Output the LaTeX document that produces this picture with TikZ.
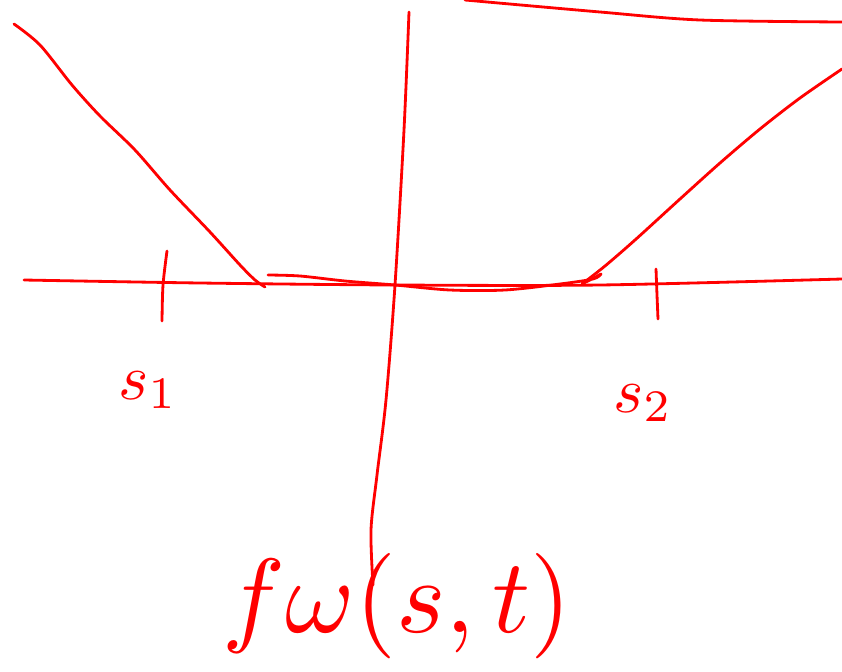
\documentclass[tikz,border=0pt]{standalone}
\usepackage{amsmath,amssymb}
\usepackage{graphicx}
\usepackage{tikz}
\definecolor{InkRed}{RGB}{255,0,0}
\tikzset{ink/.style={InkRed,line width=2.4pt,line cap=round,line join=round}}

\begin{document}
\begin{tikzpicture}[x=0.03cm,y=-0.03cm]
\useasboundingbox (0,0) rectangle (842,671);

% axis and the vertical line
\draw[ink] plot[smooth] coordinates {(24,280) (200,283) (395,285) (600,285) (842,279)};
\draw[ink] plot[smooth] coordinates {(409,12) (404,130) (395,285) (386,400) (377,475) (371,530) (373,585)};

% ticks
\draw[ink] plot[smooth] coordinates {(167,251) (163,285) (162,321)};
\draw[ink] plot[smooth] coordinates {(656,269) (657,295) (658,319)};

% the curve
\draw[ink] plot[smooth] coordinates {(465,0) (600,12) (700,20) (842,22)};
\draw[ink] plot[smooth] coordinates {(14,24) (40,45) (72,85) (100,116) (135,150) (170,190) (210,232) (240,265) (255,280) (265,287)};
\draw[ink] plot[smooth] coordinates {(268,275) (300,276) (345,281) (395,285) (450,290) (505,290) (560,284) (593,279) (601,274) (590,280) (582,284)};
\draw[ink] plot[smooth] coordinates {(582,284) (605,266) (635,240) (680,199) (720,163) (760,129) (800,98) (842,69)};

% labels
\node[InkRed] (lab1) at (148,390) {\scalebox{5.5}{$s_1$}};
\node[InkRed] (lab2) at (643,403) {\scalebox{5.5}{$s_2$}};
\node[InkRed] (labf) at (397,606) {\scalebox{9}{$f\omega(s,t)$}};
\end{tikzpicture}
\end{document}
